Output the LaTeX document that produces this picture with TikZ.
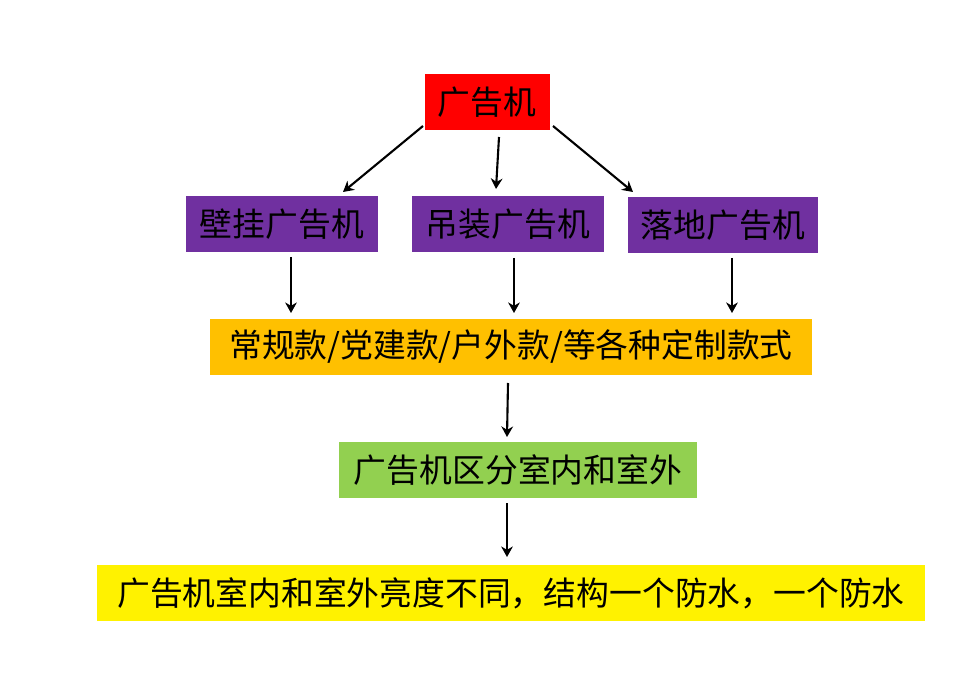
\documentclass[tikz,border=0pt]{standalone}
\usepackage{fontspec}
\newfontfamily\cjk{Noto Sans CJK SC}
\usetikzlibrary{arrows.meta}
\definecolor{adpurple}{HTML}{7030A0}
\definecolor{adorange}{HTML}{FFC000}
\definecolor{adgreen}{HTML}{92D050}
\begin{document}
\begin{tikzpicture}[x=0.03cm,y=-0.03cm]
        \tikzset{
        ad box/.style={draw=none,inner sep=0,minimum height=1.66cm,font=\cjk\fontsize{28}{32}\selectfont},
        ad arrow/.style={-{Stealth[length=9pt,width=10pt]},line width=1.8pt}
        }
        \useasboundingbox (0,0) rectangle (969,681);
        \node[ad box, fill=red, minimum width=3.75cm] (top) at (487,102) {广告机};
        \node[ad box, fill=adpurple, minimum width=5.76cm] (wall) at (282,224) {壁挂广告机};
        \node[ad box, fill=adpurple, minimum width=5.76cm] (hang) at (508,224) {吊装广告机};
        \node[ad box, fill=adpurple, minimum width=5.7cm] (floor) at (723,225) {落地广告机};
        \node[ad box, fill=adorange, minimum width=18.06cm] (style) at (511,347) {常规款/党建款/户外款/等各种定制款式};
        \node[ad box, fill=adgreen, minimum width=10.74cm] (area) at (518,470) {广告机区分室内和室外};
        \node[ad box, fill=yellow, minimum width=24.81cm] (diff) at (511,593) {广告机室内和室外亮度不同，结构一个防水，一个防水};

        \coordinate (w1) at (291,257); \coordinate (w2) at (291,313);
        \coordinate (h1) at (514,258); \coordinate (h2) at (514,313);
        \coordinate (f1) at (732,258); \coordinate (f2) at (732,313);
        \coordinate (s1) at (508,383); \coordinate (s2) at (507,437);
        \coordinate (a1) at (507,503); \coordinate (a2) at (507,557);
        \coordinate (t1) at (423,126); \coordinate (t2) at (343,192);
        \coordinate (t3) at (499,137); \coordinate (t4) at (496,189);
        \coordinate (t5) at (553,126); \coordinate (t6) at (633,192);

        \draw[ad arrow] (t1) -- (t2);
        \draw[ad arrow] (t3) -- (t4);
        \draw[ad arrow] (t5) -- (t6);
        \draw[ad arrow] (w1) -- (w2);
        \draw[ad arrow] (h1) -- (h2);
        \draw[ad arrow] (f1) -- (f2);
        \draw[ad arrow] (s1) -- (s2);
        \draw[ad arrow] (a1) -- (a2);
    \end{tikzpicture}
\end{document}
